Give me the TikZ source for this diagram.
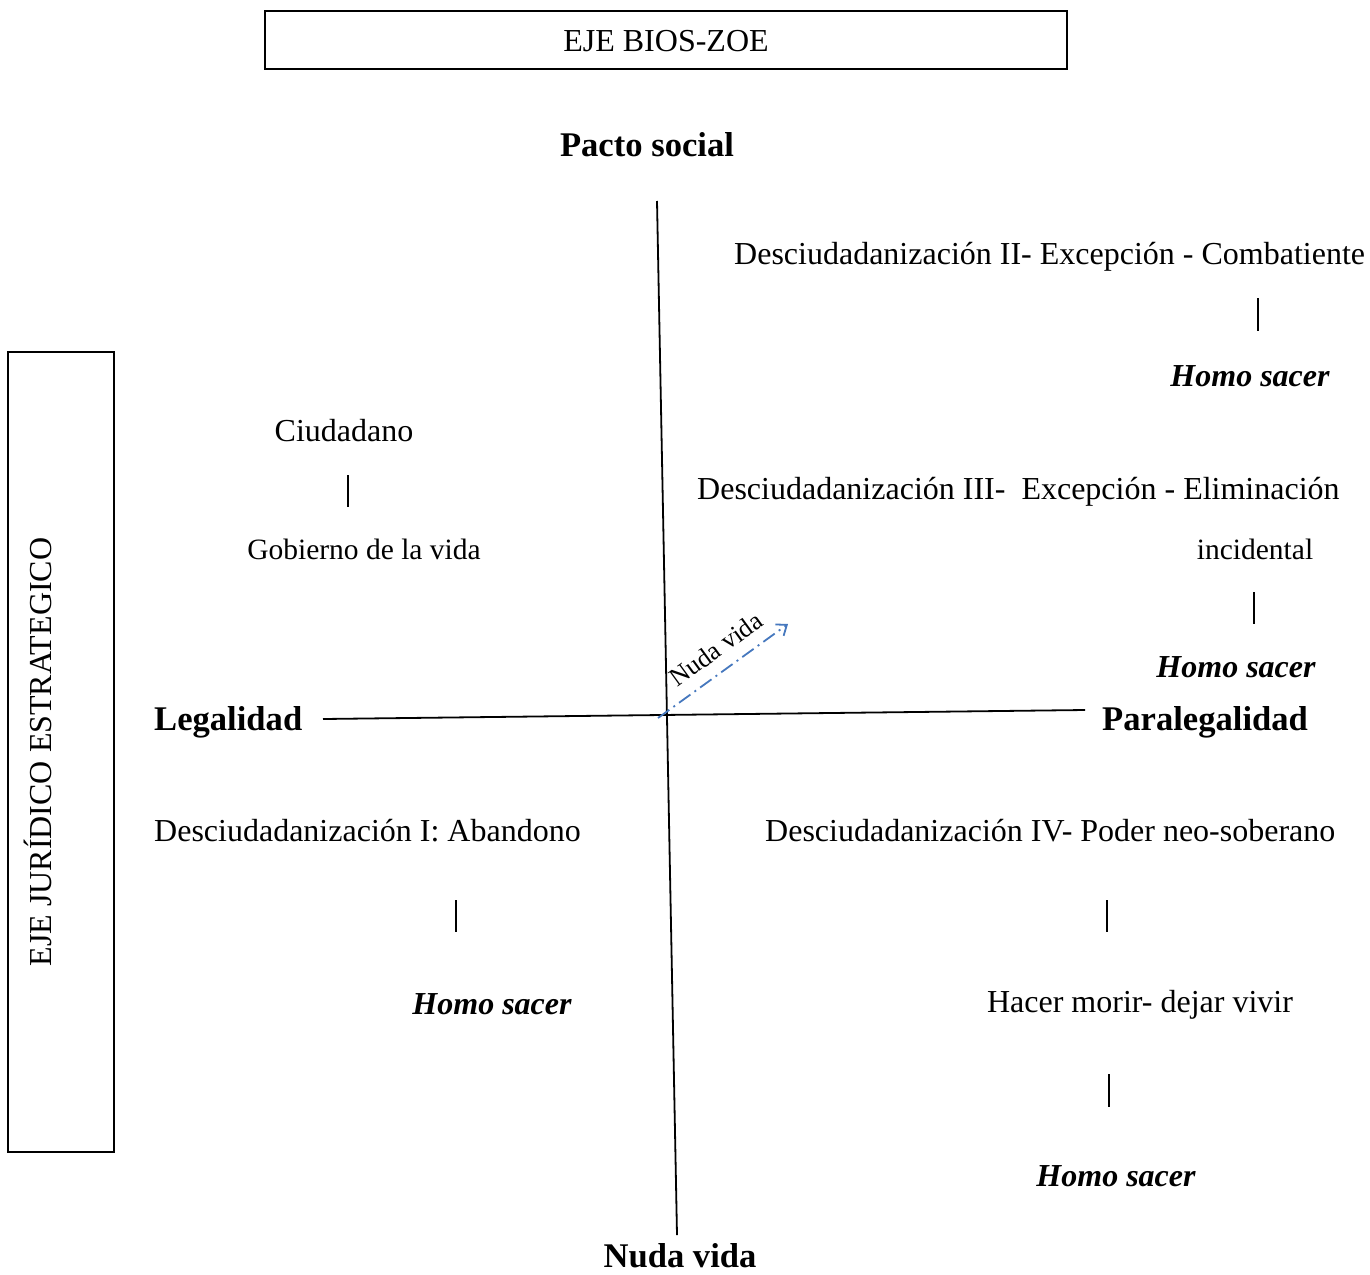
\documentclass[tikz,border=0pt]{standalone}
\usepackage{fontspec}
\setmainfont{Liberation Serif}
\usetikzlibrary{arrows.meta}
\definecolor{arrblue}{RGB}{70,120,190}
\begin{document}
\begin{tikzpicture}[x=1pt,y=-1pt,
  txt/.style={inner sep=0pt,font=\fontsize{32}{38}\selectfont},
  small/.style={inner sep=0pt,font=\fontsize{29.5}{35}\selectfont},
  bold/.style={inner sep=0pt,font=\fontsize{34.6}{40}\selectfont\bfseries},
  hs/.style={inner sep=0pt,font=\fontsize{32}{38}\selectfont\bfseries\itshape},
  axis/.style={line width=1.8pt},
  bar/.style={line width=1.2pt}]
\useasboundingbox (0,0) rectangle (1370,1274);
% boxes
\draw[line width=1.8pt] (265,11) rectangle (1067,69);
\node[txt] (bioszoe) at (666,41) {EJE BIOS-ZOE};
\draw[line width=1.8pt] (8,352) rectangle (114,1152);
\node[txt,rotate=90] (juridico) at (38,752) {EJE JURÍDICO ESTRATEGICO};
% axes
\coordinate (vtop) at (657,201);
\coordinate (vbot) at (677,1235);
\coordinate (hl) at (323,719);
\coordinate (hr) at (1085,710);
\draw[axis] (vtop) -- (vbot);
\draw[axis] (hl) -- (hr);
% arrow
\coordinate (as) at (658,718);
\coordinate (ae) at (788,624);
\draw[arrblue,line width=1.8pt,dash pattern=on 14pt off 5pt on 2pt off 5pt,-{Straight Barb[length=9pt,width=14pt]}] (as) -- (ae);
\node[inner sep=0pt,font=\fontsize{26}{30}\selectfont,rotate=36] (nudaarrow) at (716,649) {Nuda vida};
% axis labels
\node[bold] (pacto) at (647,145) {Pacto social};
\node[bold] (nuda) at (680,1256) {Nuda vida};
\node[bold,anchor=west] (legal) at (154,722) {Legalidad};
\node[bold,anchor=west] (paralegal) at (1102,722) {Paralegalidad};
% quadrant II
\node[txt,anchor=west] (d2) at (734,257) {Desciudadanización II- Excepción - Combatiente};
\draw[bar] (1258,298) -- (1258,331);
\node[hs] (hs2) at (1250,376) {Homo sacer};
% quadrant ciudadano
\node[txt] (ciud) at (344,431) {Ciudadano};
\draw[bar] (348,475) -- (348,507);
\node[small] (gob) at (364,549) {Gobierno de la vida};
% quadrant III
\node[txt,anchor=west] (d3) at (697,492) {Desciudadanización III-~ Excepción - Eliminación};
\node[small] (inc) at (1255,549) {incidental};
\draw[bar] (1254,592) -- (1254,624);
\node[hs] (hs3) at (1236,667) {Homo sacer};
% quadrant I
\node[txt,anchor=west] (d1) at (154,831) {Desciudadanización I: Abandono};
\draw[bar] (456,900) -- (456,932);
\node[hs] (hs1) at (492,1004) {Homo sacer};
% quadrant IV
\node[txt,anchor=west] (d4) at (765,831) {Desciudadanización IV- Poder neo-soberano};
\draw[bar] (1107,900) -- (1107,932);
\node[txt] (hacer) at (1140,1005) {Hacer morir- dejar vivir};
\draw[bar] (1109,1074) -- (1109,1107);
\node[hs] (hs4) at (1116,1176) {Homo sacer};
\end{tikzpicture}
\end{document}
